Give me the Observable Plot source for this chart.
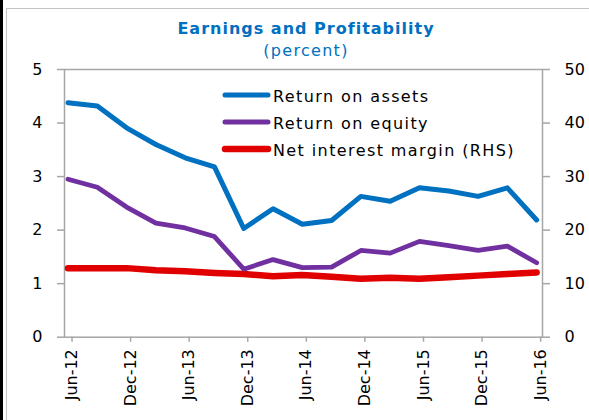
<!DOCTYPE html>
<html>
<head>
<meta charset="utf-8">
<script src="https://cdn.jsdelivr.net/npm/d3@7"></script>
<script src="https://cdn.jsdelivr.net/npm/@observablehq/plot@0.6"></script>
<style>
  html, body { margin: 0; padding: 0; background: #fff; }
  #wrap { position: relative; width: 589px; height: 420px; overflow: hidden; background: #fff; font-family: "DejaVu Sans", sans-serif; }
  #strip { position: absolute; left: 0; top: 0; width: 3px; height: 420px; background: #000; }
  #box { position: absolute; left: 6px; top: 8px; width: 600px; height: 430px; border-left: 1.5px solid #c4c4c4; border-top: 1.5px solid #c4c4c4; }
  .ttl { position: absolute; left: 66px; width: 480px; text-align: center; color: #0070C0; font-size: 16px; line-height: 18px; white-space: nowrap; }
  #title { top: 20px; font-weight: bold; letter-spacing: 1px; }
  #subtitle { top: 42px; letter-spacing: 1.3px; }
  #chart { position: absolute; left: 0; top: 58px; }
  #legend { position: absolute; left: 0; top: 0; pointer-events: none; }
</style>
</head>
<body>
<div id="wrap">
  <div id="strip"></div>
  <div id="box"></div>
  <div id="title" class="ttl"></div>
  <div id="subtitle" class="ttl"></div>
  <div id="chart"></div>
  <svg id="legend" width="589" height="420"></svg>
</div>
<script>
// ---- data ----
const titleText = "Earnings and Profitability";
const subtitleText = "(percent)";
const quarters = ["Jun-12","Sep-12","Dec-12","Mar-13","Jun-13","Sep-13","Dec-13","Mar-14","Jun-14","Sep-14","Dec-14","Mar-15","Jun-15","Sep-15","Dec-15","Mar-16","Jun-16"];
const returnOnAssets = [4.38, 4.32, 3.91, 3.60, 3.35, 3.18, 2.03, 2.40, 2.11, 2.18, 2.63, 2.54, 2.79, 2.73, 2.63, 2.79, 2.19];
const returnOnEquity = [2.95, 2.80, 2.43, 2.13, 2.04, 1.88, 1.27, 1.45, 1.30, 1.31, 1.62, 1.57, 1.79, 1.71, 1.62, 1.70, 1.39];
const netInterestMarginRHS = [12.9, 12.9, 12.9, 12.5, 12.3, 12.0, 11.8, 11.4, 11.6, 11.3, 10.9, 11.1, 10.9, 11.2, 11.5, 11.8, 12.1];
const seriesNames = ["Return on assets", "Return on equity", "Net interest margin (RHS)"];
const seriesColors = ["#0070C0", "#7030A0", "#E00000"];
const leftTicks = [0, 1, 2, 3, 4, 5];
const rhsFactor = 10;

document.getElementById("title").textContent = titleText;
document.getElementById("subtitle").textContent = subtitleText;

const rows = [];
quarters.forEach((q, i) => {
  rows.push({i, q, series: seriesNames[0], v: returnOnAssets[i]});
  rows.push({i, q, series: seriesNames[1], v: returnOnEquity[i]});
  rows.push({i, q, series: seriesNames[2], v: netInterestMarginRHS[i] / rhsFactor});
});
const xTicks = quarters.map((q, i) => i).filter(i => /^(Jun|Dec)/.test(quarters[i]));
const widths = {[seriesNames[0]]: 5, [seriesNames[1]]: 4.8, [seriesNames[2]]: 6.5};

const axisGray = "#a6a6a6";
const chart = Plot.plot({
  width: 589,
  height: 362,
  marginLeft: 64,
  marginRight: 47,
  marginTop: 11,
  marginBottom: 83.3,
  style: {fontFamily: "DejaVu Sans, sans-serif", fontSize: "16px", color: "#000", background: "transparent", overflow: "visible"},
  x: {domain: [-0.12, 16.2], axis: null},
  y: {domain: [0, 5], axis: null},
  color: {domain: seriesNames, range: seriesColors},
  marks: [
    Plot.frame({stroke: axisGray, strokeWidth: 1.5}),
    Plot.axisY({anchor: "left", ticks: leftTicks, tickFormat: d => String(d), tickSize: 7, tickPadding: 15, stroke: axisGray, strokeWidth: 1.5, fill: "#000", label: null}),
    Plot.axisY({anchor: "right", ticks: leftTicks, tickFormat: d => String(d * rhsFactor), tickSize: 7, tickPadding: 15, stroke: axisGray, strokeWidth: 1.5, fill: "#000", label: null}),
    Plot.axisX({ticks: xTicks, tickFormat: i => quarters[i], tickRotate: -90, tickSize: 5, tickPadding: 7, stroke: axisGray, strokeWidth: 1.5, fill: "#000", label: null, dx: 4}),
    ...seriesNames.slice().reverse().map(s => Plot.line(rows.filter(r => r.series === s), {
      x: "i", y: "v", stroke: "series", strokeWidth: widths[s], strokeLinejoin: "round", strokeLinecap: "round"
    }))
  ]
});
document.getElementById("chart").appendChild(chart);

// ---- legend (inside plot area) ----
const leg = d3.select("#legend");
const legX = 225, legLen = 43, legTop = 95, legStep = 27;
seriesNames.forEach((s, k) => {
  const y = legTop + k * legStep;
  leg.append("line").attr("x1", legX).attr("x2", legX + legLen).attr("y1", y).attr("y2", y)
    .attr("stroke", seriesColors[k]).attr("stroke-width", k === 2 ? 6.5 : 5).attr("stroke-linecap", "round");
  leg.append("text").attr("x", legX + legLen + 5).attr("y", y + 7)
    .attr("font-family", "DejaVu Sans, sans-serif").attr("font-size", 16).attr("letter-spacing", 1.4)
    .attr("fill", "#000").text(s);
});
</script>
</body>
</html>
